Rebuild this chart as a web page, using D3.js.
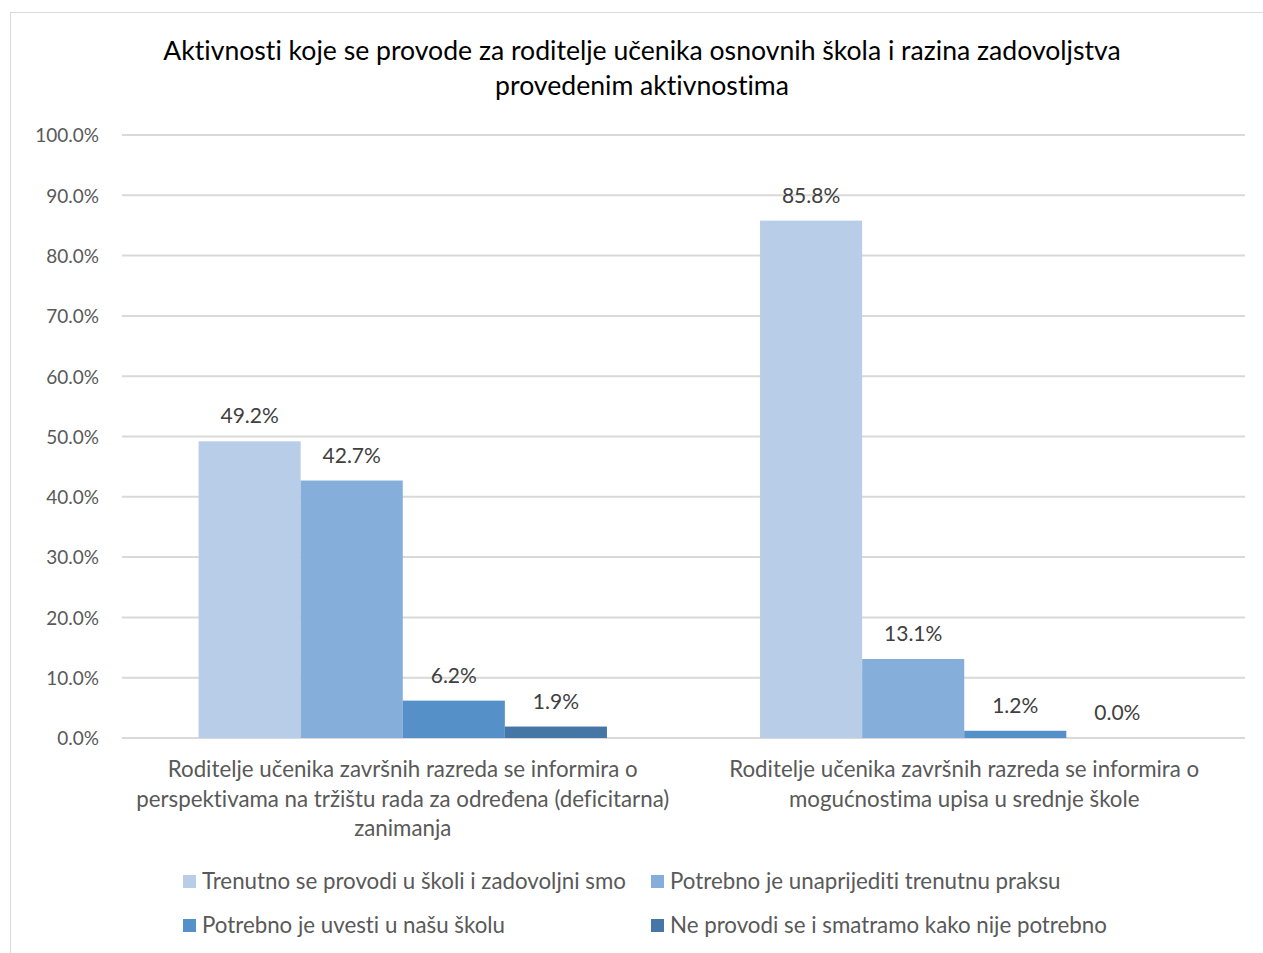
<!DOCTYPE html>
<html><head><meta charset="utf-8">
<script src="https://cdn.jsdelivr.net/npm/d3@7"></script>
<style>body{margin:0;background:#fff;font-family:Lato,"Open Sans",sans-serif;} text{font-variant-ligatures:none;}</style>
</head><body><svg id="c" width="1263" height="953"></svg>
<script>
const titleLines = ["Aktivnosti koje se provode za roditelje učenika osnovnih škola i razina zadovoljstva", "provedenim aktivnostima"];
const categories = ["cat1", "cat2"];
const categoryLabels = [
  ["Roditelje učenika završnih razreda se informira o", "perspektivama na tržištu rada za određena (deficitarna)", "zanimanja"],
  ["Roditelje učenika završnih razreda se informira o", "mogućnostima upisa u srednje škole"]
];
const seriesNames = ["Trenutno se provodi u školi i zadovoljni smo", "Potrebno je unaprijediti trenutnu praksu", "Potrebno je uvesti u našu školu", "Ne provodi se i smatramo kako nije potrebno"];
const seriesColors = ["#B8CDE7", "#85AEDB", "#5590C8", "#4676A5"];
const values = [
  [49.2, 85.8],
  [42.7, 13.1],
  [6.2, 1.2],
  [1.9, 0.0]
];
const yTicks = [0,10,20,30,40,50,60,70,80,90,100];

const svg = d3.select("#c");
svg.append("rect").attr("x",10.5).attr("y",12.5).attr("width",1262).attr("height",950).attr("fill","#fff").attr("stroke","#d9d9d9");

const pL=122, pR=1245, pT=135, pB=738;
const x0 = d3.scaleBand().domain(categories).range([pL,pR]).paddingInner(0.2727).paddingOuter(0.1364);
const x1 = d3.scaleBand().domain(d3.range(4)).range([0,x0.bandwidth()]);
const y = d3.scaleLinear().domain([0,100]).range([pB,pT]);

svg.append("g").selectAll("line").data(yTicks).join("line")
  .attr("x1",pL).attr("x2",pR).attr("y1",d=>y(d)).attr("y2",d=>y(d))
  .attr("stroke","#d9d9d9").attr("stroke-width",2);

const yAxis = svg.append("g").attr("transform",`translate(${pL-23},0)`)
  .call(d3.axisLeft(y).tickValues(yTicks).tickSize(0).tickPadding(0).tickFormat(d=>d.toFixed(1)+"%"));
yAxis.select(".domain").remove();
yAxis.selectAll("text").attr("font-family","Lato").attr("font-size",19).attr("fill","#595959").attr("dy","0.36em");

const tg = svg.append("g");
titleLines.forEach((t,i)=>tg.append("text").attr("x",642).attr("y",60+i*35).attr("text-anchor","middle")
  .attr("font-size",26.6).attr("fill","#000").text(t));

values.forEach((vals,s)=>{
  const g = svg.append("g");
  g.selectAll("rect").data(vals).join("rect")
    .attr("x",(d,i)=>x0(categories[i])+x1(s)).attr("width",x1.bandwidth())
    .attr("y",d=>y(d)).attr("height",d=>pB-y(d)).attr("fill",seriesColors[s]);
  g.selectAll("text").data(vals).join("text")
    .attr("x",(d,i)=>x0(categories[i])+x1(s)+x1.bandwidth()/2)
    .attr("y",d=>y(d)-18).attr("text-anchor","middle").attr("font-size",21).attr("fill","#404040")
    .text(d=>d.toFixed(1)+"%");
});

categoryLabels.forEach((lines,i)=>{
  lines.forEach((l,j)=>svg.append("text").attr("x",x0(categories[i])+x0.bandwidth()/2).attr("y",777+j*29.5)
    .attr("text-anchor","middle").attr("font-size",22.3).attr("fill","#595959").text(l));
});

const legPos=[[183,881],[651,881],[183,925],[651,925]];
seriesNames.forEach((n,i)=>{
  const [lx,ly]=legPos[i];
  svg.append("rect").attr("x",lx).attr("y",ly-6).attr("width",13).attr("height",13).attr("fill",seriesColors[i]);
  svg.append("text").attr("x",lx+19).attr("y",ly+8).attr("font-size",22.3).attr("fill","#595959").text(n);
});
</script></body></html>
